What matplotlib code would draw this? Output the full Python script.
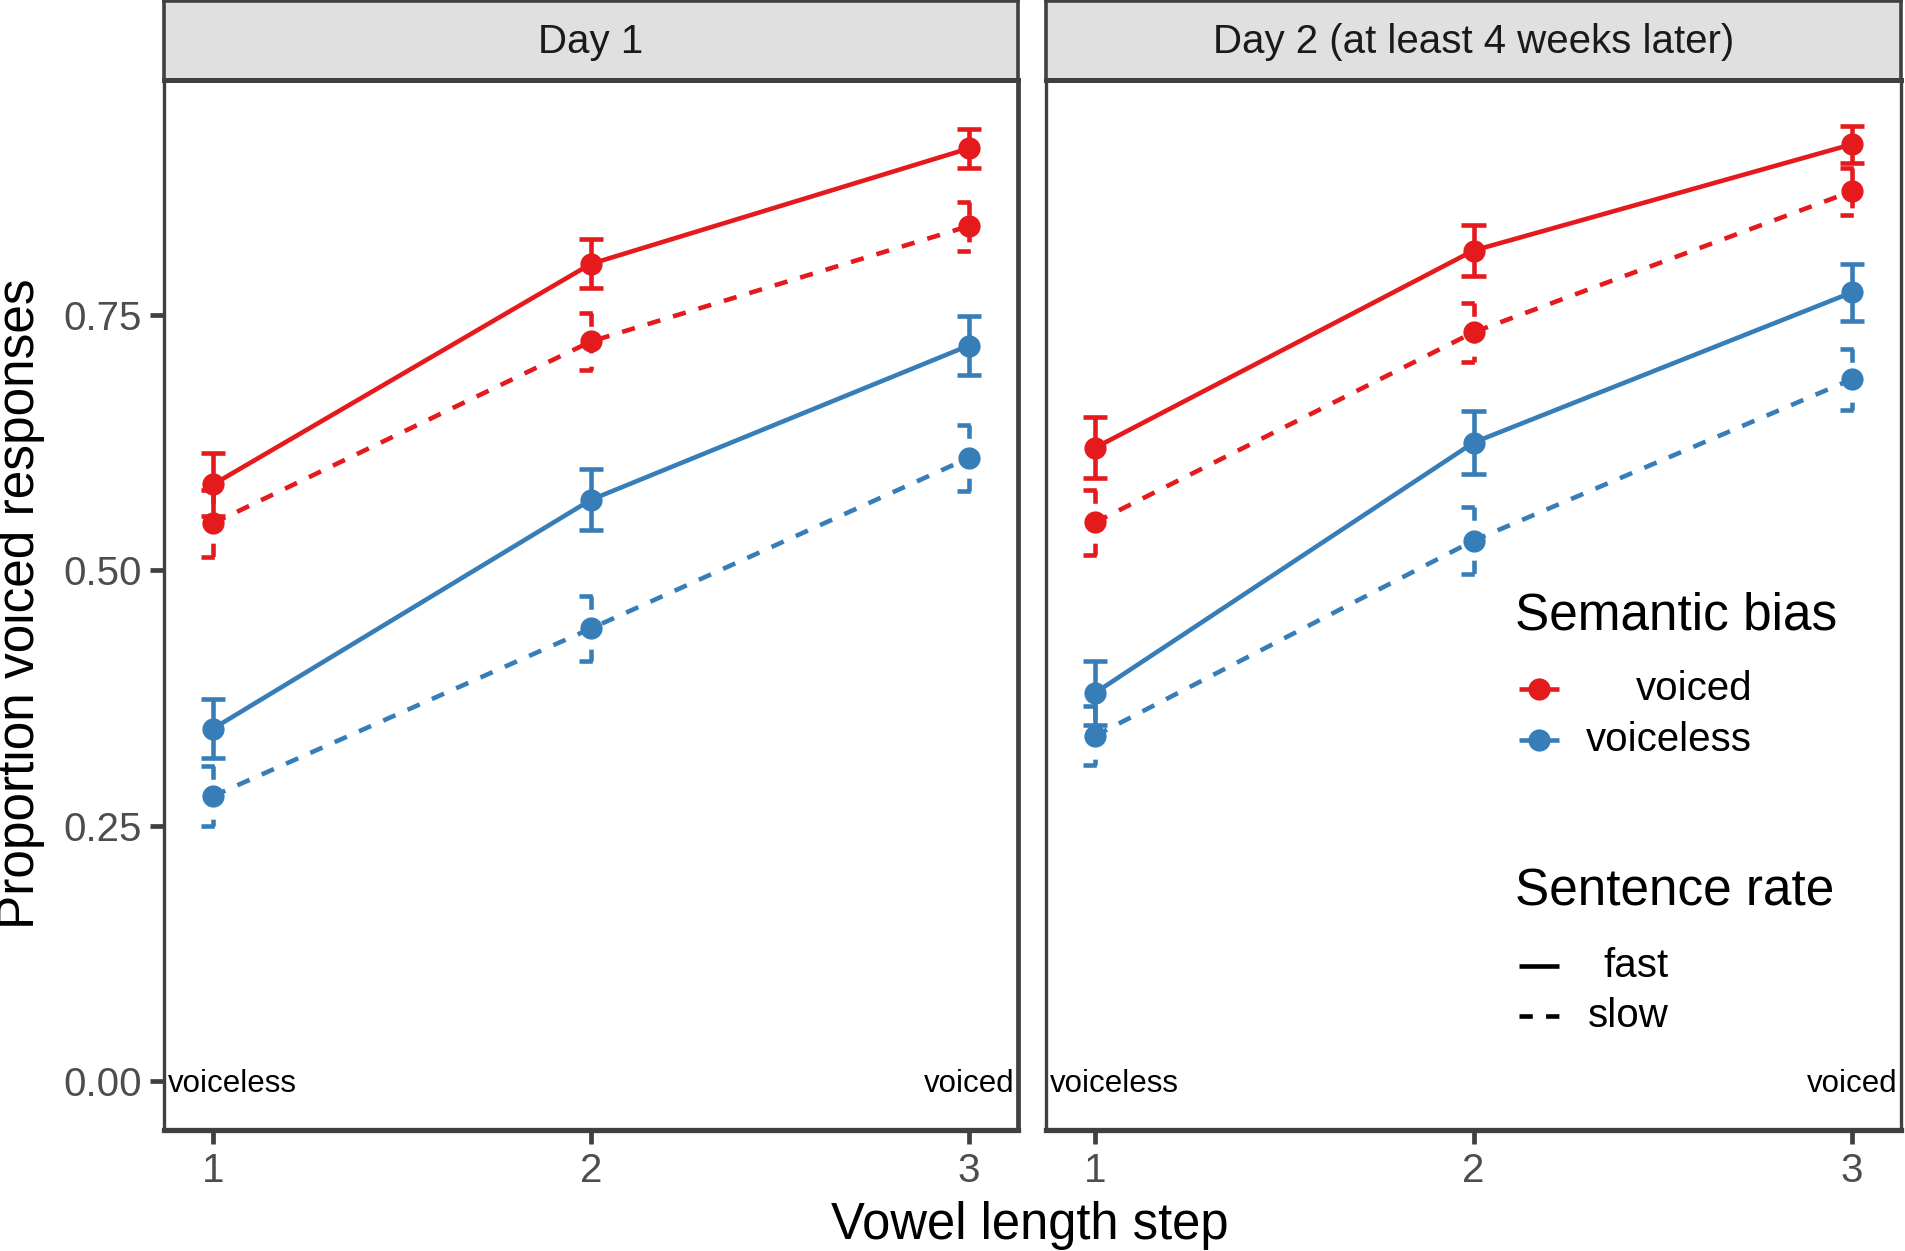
import matplotlib
matplotlib.use("Agg")
import matplotlib.pyplot as plt
from matplotlib.lines import Line2D
from matplotlib.transforms import blended_transform_factory
import numpy as np

plt.rcParams['font.family'] = ['Liberation Sans', 'DejaVu Sans']

steps = [1, 2, 3]
days = ["Day 1", "Day 2 (at least 4 weeks later)"]
bias_levels = ["voiced", "voiceless"]
rate_levels = ["fast", "slow"]

# mean proportions
day1_voiced_fast = [0.584, 0.800, 0.913]
day1_voiced_slow = [0.546, 0.724, 0.837]
day1_voiceless_fast = [0.345, 0.569, 0.720]
day1_voiceless_slow = [0.279, 0.443, 0.610]
day2_voiced_fast = [0.620, 0.813, 0.917]
day2_voiced_slow = [0.547, 0.733, 0.871]
day2_voiceless_fast = [0.380, 0.625, 0.772]
day2_voiceless_slow = [0.338, 0.529, 0.687]

# standard errors
day1_voiced_fast_se = [0.031, 0.024, 0.019]
day1_voiced_slow_se = [0.033, 0.028, 0.024]
day1_voiceless_fast_se = [0.029, 0.030, 0.029]
day1_voiceless_slow_se = [0.029, 0.032, 0.032]
day2_voiced_fast_se = [0.030, 0.025, 0.018]
day2_voiced_slow_se = [0.032, 0.029, 0.023]
day2_voiceless_fast_se = [0.031, 0.031, 0.028]
day2_voiceless_slow_se = [0.029, 0.033, 0.030]

data = {
    0: {("voiced", "fast"): (day1_voiced_fast, day1_voiced_fast_se),
        ("voiced", "slow"): (day1_voiced_slow, day1_voiced_slow_se),
        ("voiceless", "fast"): (day1_voiceless_fast, day1_voiceless_fast_se),
        ("voiceless", "slow"): (day1_voiceless_slow, day1_voiceless_slow_se)},
    1: {("voiced", "fast"): (day2_voiced_fast, day2_voiced_fast_se),
        ("voiced", "slow"): (day2_voiced_slow, day2_voiced_slow_se),
        ("voiceless", "fast"): (day2_voiceless_fast, day2_voiceless_fast_se),
        ("voiceless", "slow"): (day2_voiceless_slow, day2_voiceless_slow_se)},
}

colors = {"voiced": "#E41A1C", "voiceless": "#377EB8"}
lstyles = {"fast": "-", "slow": (0, (2.9, 2.9))}

W, H = 1905, 1251
fig = plt.figure(figsize=(W / 100, H / 100), dpi=100)

def fx(px):
    return px / W

def fy(py):
    return 1 - py / H

panels = [(164, 1018), (1046, 1901)]
top, bottom = 80, 1130
dark = "#404040"
lw = 3.3
capw = 0.032

for i, (l, r) in enumerate(panels):
    ax = fig.add_axes([fx(l), fy(bottom), fx(r) - fx(l), fy(top) - fy(bottom)])
    for (b, rt), (vals, se) in data[i].items():
        c = colors[b]
        ls = lstyles[rt]
        ax.plot(steps, vals, color=c, lw=lw, ls=ls, solid_capstyle='butt', zorder=2)
        for x, v, s in zip(steps, vals, se):
            kw = dict(color=c, lw=lw, ls=ls, solid_capstyle='butt',
                      dash_capstyle='butt', zorder=3)
            ax.plot([x - capw, x + capw], [v + s, v + s], **kw)
            ax.plot([x, x], [v + s, v - s], **kw)
            ax.plot([x - capw, x + capw], [v - s, v - s], **kw)
        ax.plot(steps, vals, 'o', color=c, ms=16, mec='none', zorder=4)
    ax.set_xlim(0.87, 3.13)
    ax.set_ylim(-0.048, 0.98)
    ax.set_xticks(steps)
    ax.set_xticklabels([str(s) for s in steps])
    ax.set_yticks([0, 0.25, 0.5, 0.75])
    ax.set_yticklabels(["0.00", "0.25", "0.50", "0.75"])
    ax.tick_params(axis='both', colors=dark, labelcolor="#4D4D4D", labelsize=29,
                   length=10, width=3.4)
    ax.tick_params(axis='x', pad=6)
    ax.tick_params(axis='y', pad=6)
    if i == 1:
        ax.tick_params(axis='y', left=False, labelleft=False)
    for sname, sp in ax.spines.items():
        sp.set_color(dark)
        sp.set_linewidth(2.4)
    ax.spines['bottom'].set_linewidth(3.8)
    if i == 0:
        ax.spines['right'].set_linewidth(3.4)
    trans = blended_transform_factory(ax.transAxes, ax.transData)
    ax.text(0.004, -0.003, "voiceless", transform=trans, ha='left', va='center',
            fontsize=22.5, color='black')
    ax.text(0.996, -0.003, "voiced", transform=trans, ha='right', va='center',
            fontsize=22.5, color='black')

    sax = fig.add_axes([fx(l), fy(top), fx(r) - fx(l), fy(1) - fy(top)])
    sax.set_facecolor("#E0E0E0")
    sax.set_xticks([])
    sax.set_yticks([])
    for sp in sax.spines.values():
        sp.set_color(dark)
        sp.set_linewidth(2.6)
    sax.spines['bottom'].set_linewidth(3.6)
    sax.text(0.5, 0.48, days[i], ha='center', va='center', fontsize=29,
             color='#1A1A1A', transform=sax.transAxes)

fig.text(fx(21), fy(604), "Proportion voiced responses", rotation=90,
         ha='center', va='center', fontsize=37, color='black')
fig.text(fx(1030), fy(1226), "Vowel length step", ha='center', va='center',
         fontsize=36.5, color='black')

# legend (manual, right-aligned labels)
fig.text(fx(1515), fy(616), "Semantic bias", ha='left', va='center', fontsize=37)
for b, py in zip(bias_levels, [689, 740]):
    fig.add_artist(Line2D([fx(1519), fx(1559)], [fy(py), fy(py)], color=colors[b],
                          lw=lw, solid_capstyle='butt'))
    fig.add_artist(Line2D([fx(1539)], [fy(py)], marker='o', ms=16, color=colors[b],
                          mec='none'))
    fig.text(fx(1752), fy(py), b, ha='right', va='center', fontsize=29)

fig.text(fx(1515), fy(892), "Sentence rate", ha='left', va='center', fontsize=37)
for rt, py in zip(rate_levels, [966, 1016]):
    fig.add_artist(Line2D([fx(1519), fx(1559)], [fy(py), fy(py)], color='black',
                          lw=lw, ls=lstyles[rt], solid_capstyle='butt',
                          dash_capstyle='butt'))
    fig.text(fx(1669), fy(py), rt, ha='right', va='center', fontsize=29)

fig.savefig("out.png", dpi=100)
